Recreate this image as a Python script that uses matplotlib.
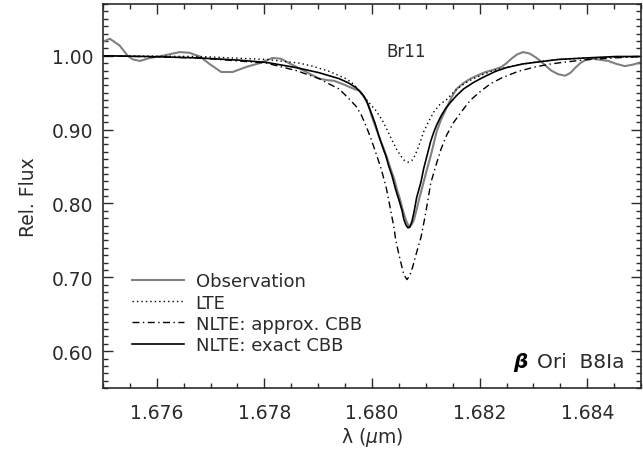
import matplotlib
matplotlib.use('Agg')
import matplotlib.pyplot as plt
from matplotlib.ticker import MultipleLocator, FormatStrFormatter

# Br11 profile of beta Ori: observed spectrum and three model fits
lam_obs = [1.67500, 1.67513, 1.67531, 1.67546, 1.67556, 1.67569, 1.67587, 1.67611,
           1.67643, 1.67661, 1.67680, 1.67698, 1.67720, 1.67741, 1.67767, 1.67791,
           1.67815, 1.67831, 1.67846, 1.67878, 1.67902, 1.67917, 1.67930, 1.67948,
           1.67967, 1.67976, 1.67987, 1.67994, 1.68000, 1.68007, 1.68015, 1.68022,
           1.68028, 1.68035, 1.68041, 1.68046, 1.68052, 1.68057, 1.68061, 1.68065,
           1.68069, 1.68070, 1.68074, 1.68078, 1.68083, 1.68089, 1.68096, 1.68102,
           1.68109, 1.68115, 1.68120, 1.68128, 1.68139, 1.68148, 1.68157, 1.68170,
           1.68183, 1.68198, 1.68211, 1.68226, 1.68241, 1.68250, 1.68259, 1.68270,
           1.68281, 1.68293, 1.68304, 1.68313, 1.68322, 1.68333, 1.68346, 1.68359,
           1.68369, 1.68378, 1.68387, 1.68396, 1.68411, 1.68420, 1.68439, 1.68454,
           1.68470, 1.68485, 1.68498]
flux_obs = [1.019, 1.023, 1.014, 1.000, 0.995, 0.993, 0.997, 1.000,
            1.005, 1.004, 0.999, 0.989, 0.978, 0.978, 0.985, 0.990,
            0.997, 0.996, 0.990, 0.978, 0.969, 0.967, 0.966, 0.961,
            0.955, 0.953, 0.943, 0.932, 0.917, 0.903, 0.887, 0.874,
            0.862, 0.846, 0.834, 0.820, 0.806, 0.792, 0.782, 0.774,
            0.769, 0.768, 0.772, 0.778, 0.792, 0.810, 0.829, 0.846,
            0.864, 0.882, 0.897, 0.913, 0.930, 0.944, 0.955, 0.963,
            0.969, 0.974, 0.978, 0.981, 0.985, 0.990, 0.996, 1.002,
            1.005, 1.003, 0.998, 0.993, 0.987, 0.980, 0.975, 0.973,
            0.977, 0.984, 0.990, 0.994, 0.996, 0.995, 0.993, 0.989,
            0.986, 0.988, 0.991]

lam_lte = [1.67500, 1.67680, 1.67804, 1.67865, 1.67889, 1.67920, 1.67952, 1.67967,
           1.67981, 1.67994, 1.68007, 1.68019, 1.68028, 1.68037, 1.68046, 1.68054,
           1.68059, 1.68067, 1.68074, 1.68080, 1.68087, 1.68096, 1.68106, 1.68115,
           1.68126, 1.68139, 1.68152, 1.68165, 1.68180, 1.68207, 1.68230, 1.68254,
           1.68281, 1.68309, 1.68346, 1.68402, 1.68498]
flux_lte = [1.000, 0.999, 0.995, 0.990, 0.986, 0.979, 0.969, 0.961,
            0.948, 0.937, 0.926, 0.913, 0.900, 0.886, 0.873, 0.864,
            0.859, 0.856, 0.858, 0.865, 0.878, 0.897, 0.912, 0.924,
            0.934, 0.941, 0.951, 0.959, 0.966, 0.975, 0.981, 0.985,
            0.989, 0.992, 0.995, 0.997, 0.999]

lam_approx = [1.67500, 1.67680, 1.67804, 1.67859, 1.67902, 1.67920, 1.67939, 1.67957,
              1.67970, 1.67980, 1.67989, 1.67998, 1.68007, 1.68017, 1.68026, 1.68031,
              1.68037, 1.68041, 1.68044, 1.68050, 1.68056, 1.68059, 1.68065, 1.68070,
              1.68076, 1.68083, 1.68091, 1.68098, 1.68104, 1.68109, 1.68119, 1.68128,
              1.68139, 1.68152, 1.68167, 1.68183, 1.68202, 1.68220, 1.68241, 1.68272,
              1.68304, 1.68333, 1.68365, 1.68402, 1.68448, 1.68498]
flux_approx = [1.000, 0.997, 0.990, 0.980, 0.969, 0.962, 0.955, 0.942,
               0.932, 0.920, 0.905, 0.888, 0.869, 0.847, 0.823, 0.805,
               0.782, 0.767, 0.751, 0.731, 0.713, 0.704, 0.697, 0.702,
               0.715, 0.734, 0.754, 0.780, 0.805, 0.827, 0.852, 0.873,
               0.893, 0.910, 0.925, 0.940, 0.952, 0.962, 0.970, 0.979,
               0.985, 0.989, 0.992, 0.995, 0.997, 0.999]

lam_exact = [1.67500, 1.67587, 1.67680, 1.67754, 1.67804, 1.67859, 1.67902, 1.67939,
             1.67957, 1.67970, 1.67980, 1.67985, 1.67991, 1.67994, 1.68000, 1.68006,
             1.68013, 1.68019, 1.68026, 1.68031, 1.68037, 1.68044, 1.68050, 1.68056,
             1.68059, 1.68063, 1.68067, 1.68070, 1.68074, 1.68078, 1.68083, 1.68091,
             1.68096, 1.68102, 1.68109, 1.68115, 1.68120, 1.68128, 1.68137, 1.68146,
             1.68157, 1.68170, 1.68189, 1.68207, 1.68230, 1.68250, 1.68281, 1.68313,
             1.68346, 1.68396, 1.68454, 1.68498]
flux_exact = [1.000, 0.999, 0.997, 0.994, 0.991, 0.984, 0.977, 0.969,
              0.963, 0.957, 0.950, 0.945, 0.937, 0.931, 0.920, 0.908,
              0.891, 0.878, 0.864, 0.851, 0.838, 0.819, 0.805, 0.790,
              0.779, 0.771, 0.767, 0.768, 0.775, 0.788, 0.808, 0.829,
              0.847, 0.864, 0.884, 0.897, 0.906, 0.918, 0.929, 0.937,
              0.946, 0.955, 0.964, 0.971, 0.979, 0.984, 0.989, 0.992,
              0.995, 0.997, 0.999, 0.999]

txt = '#2b2b2b'
plt.rcParams['font.family'] = 'DejaVu Sans'
plt.rcParams['mathtext.fontset'] = 'dejavusans'

fig = plt.figure(figsize=(6.43, 4.60), dpi=100)
ax = fig.add_axes([0.160, 0.154, 0.837, 0.835])

ax.plot(lam_obs, flux_obs, color='#808080', lw=1.5, label='Observation')
ax.plot(lam_lte, flux_lte, color='black', lw=1.0, ls=(0, (1, 2.2)), label='LTE')
ax.plot(lam_approx, flux_approx, color='black', lw=1.0, ls=(0, (5, 2.5, 1, 2.5)),
        label='NLTE: approx. CBB')
ax.plot(lam_exact, flux_exact, color='black', lw=1.2, label='NLTE: exact CBB')

ax.set_xlim(1.675, 1.685)
ax.set_ylim(0.55, 1.07)

ax.xaxis.set_major_locator(MultipleLocator(0.002))
ax.xaxis.set_minor_locator(MultipleLocator(0.0005))
ax.yaxis.set_major_locator(MultipleLocator(0.1))
ax.yaxis.set_minor_locator(MultipleLocator(0.01))
ax.xaxis.set_major_formatter(FormatStrFormatter('%.3f'))
ax.yaxis.set_major_formatter(FormatStrFormatter('%.2f'))

ax.tick_params(which='both', direction='in', top=True, right=True, colors=txt,
               labelsize=13.5, width=1.0)
ax.tick_params(axis='x', which='major', length=7, pad=11)
ax.tick_params(axis='y', which='major', length=7, pad=7)
ax.tick_params(which='minor', length=3.5)
for s in ax.spines.values():
    s.set_linewidth(1.2)
    s.set_color(txt)

ax.set_xlabel(r'λ ($\mu$m)', fontsize=13.5, color=txt, labelpad=2)
ax.set_ylabel('Rel. Flux', fontsize=13.5, color=txt, labelpad=10)

ax.text(1.68063, 1.0068, 'Br11', fontsize=12, color=txt, ha='center', va='center')
ax.text(0.970, 0.070, 'Ori  B8Ia', transform=ax.transAxes, fontsize=14.5,
        color=txt, ha='right', va='center')
ax.text(0.775, 0.070, 'β', transform=ax.transAxes, fontsize=14.5, color='black',
        fontweight='bold', fontstyle='italic', ha='center', va='center')

leg = ax.legend(loc='lower left', bbox_to_anchor=(0.04, 0.07), frameon=False,
                fontsize=13, handlelength=2.9, handletextpad=0.65,
                labelspacing=0.18, borderaxespad=0)
for t in leg.get_texts():
    t.set_color(txt)

fig.savefig('out.png', dpi=100)
